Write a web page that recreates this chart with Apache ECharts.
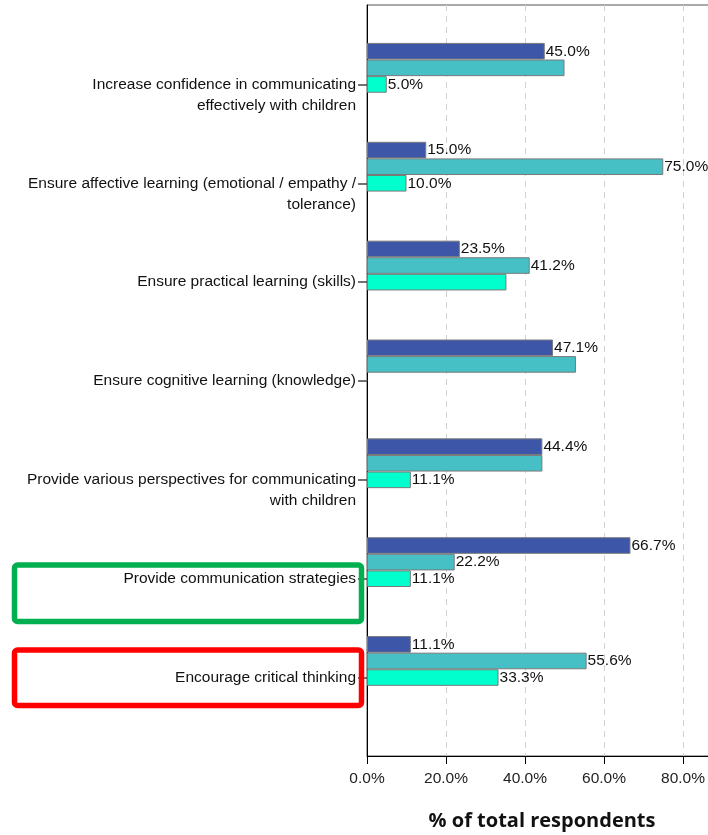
<!DOCTYPE html>
<html>
<head>
<meta charset="utf-8">
<script src="https://cdn.jsdelivr.net/npm/echarts@6/dist/echarts.min.js"></script>
<style>
  html, body { margin: 0; padding: 0; background: #fff; }
  #charts { width: 708px; height: 835px; }
</style>
</head>
<body>
<div id="charts"></div>
<script>
// categories, top to bottom (line breaks as shown in the chart)
const categories = [
    'Increase confidence in communicating\neffectively with children',
    'Ensure affective learning (emotional / empathy /\ntolerance)',
    'Ensure practical learning (skills)',
    'Ensure cognitive learning (knowledge)',
    'Provide various perspectives for communicating\nwith children',
    'Provide communication strategies',
    'Encourage critical thinking'
];

// % of total respondents, one array per cluster colour
const group1 = [45.0, 15.0, 23.5, 47.1, 44.4, 66.7, 11.1];
const group2 = [50.0, 75.0, 41.2, 52.9, 44.4, 22.2, 55.6];
const group3 = [5.0, 10.0, 35.3, null, 11.1, 11.1, 33.3];

// x axis ticks
const xMin = 0;
const xMax = 100;
const xStep = 20;

// bars whose value label is not printed in the chart
const hiddenLabels = {
    group2: [0, 3, 4],
    group3: [2]
};

const labelFont = 'Liberation Sans';
const colors = ['#3d56a8', '#46c0c5', '#00ffcc'];

function toItems(values, hidden) {
    return values.map(function (v, i) {
        if (v === null) return '-';
        if (hidden && hidden.indexOf(i) >= 0) {
            return { value: v, label: { show: false } };
        }
        return v;
    });
}

function barSeries(name, values, color, hidden) {
    return {
        name: name,
        type: 'bar',
        xAxisIndex: 1,
        yAxisIndex: 1,
        barWidth: 16.6,
        barGap: '0%',
        data: toItems(values, hidden),
        itemStyle: {
            color: color,
            borderColor: '#7a7a7a',
            borderWidth: 1
        },
        label: {
            show: true,
            position: 'right',
            distance: 1,
            color: '#111',
            fontFamily: labelFont,
            fontSize: 15.5,
            formatter: function (p) {
                return p.value.toFixed(1) + '%';
            }
        },
        silent: true,
        animation: false
    };
}

const option = {
    backgroundColor: '#fff',
    grid: [
        { // frame of the plot (runs past the right edge, as in the chart)
            left: 367, top: 5, width: 395, height: 751,
            outerBoundsMode: 'none',
            show: true, borderColor: '#555', borderWidth: 1
        },
        { // category band area
            left: 367, top: 35, width: 395, height: 692,
            outerBoundsMode: 'none'
        }
    ],
    xAxis: [
        {
            gridIndex: 0,
            type: 'value',
            min: xMin,
            max: xMax,
            interval: xStep,
            name: '% of total respondents',
            nameLocation: 'middle',
            nameGap: 55,
            nameTextStyle: {
                color: '#111',
                fontFamily: 'Open Sans',
                fontWeight: 'bold',
                fontSize: 20,
                padding: [0, 45, 0, 0]
            },
            axisLine: { show: true, lineStyle: { color: '#000', width: 1 } },
            axisTick: { show: true, length: 8, lineStyle: { color: '#000' } },
            axisLabel: {
                margin: 15,
                color: '#222',
                fontFamily: labelFont,
                fontSize: 15.5,
                formatter: function (v) { return v.toFixed(1) + '%'; }
            },
            splitLine: {
                show: true,
                lineStyle: { color: '#d2d2d2', type: [6, 5], width: 1 }
            }
        },
        {
            gridIndex: 1,
            type: 'value',
            min: xMin,
            max: xMax,
            show: false
        }
    ],
    yAxis: [
        {
            gridIndex: 0,
            type: 'value',
            min: 0,
            max: 1,
            axisLine: { show: true, lineStyle: { color: '#000', width: 1 } },
            axisTick: { show: false },
            axisLabel: { show: false },
            splitLine: { show: false }
        },
        {
            gridIndex: 1,
            type: 'category',
            inverse: true,
            data: categories,
            axisLine: { show: false },
            axisTick: {
                show: true,
                alignWithLabel: true,
                length: 9,
                lineStyle: { color: '#444', width: 1.5 }
            },
            axisLabel: {
                margin: 11,
                color: '#111',
                fontFamily: labelFont,
                fontSize: 15.5,
                lineHeight: 21,
                align: 'right',
                // first line of a wrapped label sits on the tick
                formatter: function (v) {
                    return v.indexOf('\n') >= 0 ? '\n' + v : v;
                }
            },
            splitLine: { show: false }
        }
    ],
    series: [
        barSeries('Group 1', group1, colors[0]),
        barSeries('Group 2', group2, colors[1], hiddenLabels.group2),
        barSeries('Group 3', group3, colors[2], hiddenLabels.group3),
        // two empty slots of the cluster
        { name: 'Group 4', type: 'bar', xAxisIndex: 1, yAxisIndex: 1, barWidth: 16.6, barGap: '0%', data: [] },
        { name: 'Group 5', type: 'bar', xAxisIndex: 1, yAxisIndex: 1, barWidth: 16.6, barGap: '0%', data: [] }
    ],
    graphic: [
        { // green highlight box
            type: 'rect',
            shape: { x: 14.5, y: 565, width: 347, height: 56.5, r: 3 },
            style: { fill: 'none', stroke: '#00b050', lineWidth: 5.5 },
            z: 10
        },
        { // red highlight box
            type: 'rect',
            shape: { x: 14.5, y: 650, width: 347, height: 55.5, r: 3 },
            style: { fill: 'none', stroke: '#ff0000', lineWidth: 5.5 },
            z: 10
        }
    ]
};

const chart = echarts.init(document.getElementById('charts'), null, { renderer: 'canvas' });
chart.setOption(option);
</script>
</body>
</html>
